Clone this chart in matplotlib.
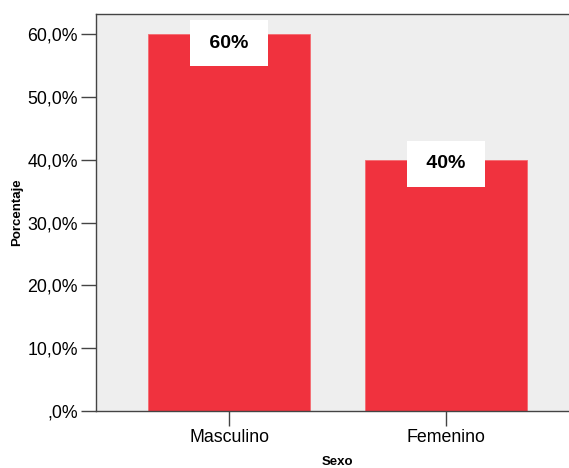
import matplotlib.pyplot as plt
from matplotlib.ticker import FuncFormatter

plt.rcParams['font.family'] = ['Liberation Sans', 'DejaVu Sans']

categorias = ['Masculino', 'Femenino']
porcentajes = [60, 40]
etiquetas = ['60%', '40%']
yticks = [0, 10, 20, 30, 40, 50, 60]

fig = plt.figure(figsize=(5.69, 4.68), dpi=100)
ax = fig.add_axes([0.1687, 0.1218, 0.849, 0.848])
ax.set_facecolor('#eeeeee')

x = range(len(categorias))
ax.bar(x, porcentajes, width=0.75, color='#f0323e', edgecolor='#f46a70', linewidth=0.6, zorder=2)

# white value boxes sitting on the bar tops, kept clear of the top frame
for xi, v, t in zip(x, porcentajes, etiquetas):
    ax.text(xi, min(v - 0.6, 58.6), ' ' + t + ' ', ha='center', va='center', fontsize=14, fontweight='bold',
            bbox=dict(facecolor='white', edgecolor='none', boxstyle='square,pad=0.75'), zorder=3)

ax.set_xlim(-0.613, 1.613)
ax.set_ylim(0, 63.2)
ax.set_xticks(list(x))
ax.set_xticklabels(categorias, fontsize=12.8)
ax.set_yticks(yticks)
ax.yaxis.set_major_formatter(FuncFormatter(lambda v, p: ',0%' if v == 0 else f'{v:.1f}%'.replace('.', ',')))
ax.tick_params(axis='y', labelsize=12.8)
ax.tick_params(length=11, width=1, color='#444444', pad=2)

for s in ax.spines.values():
    s.set_color('#444444')
    s.set_linewidth(1)

ax.set_ylabel('Porcentaje', fontsize=9.5, fontweight='bold', labelpad=3)
ax.set_xlabel('Sexo', fontsize=9.5, fontweight='bold', labelpad=7)

fig.savefig('out.png', dpi=100)
